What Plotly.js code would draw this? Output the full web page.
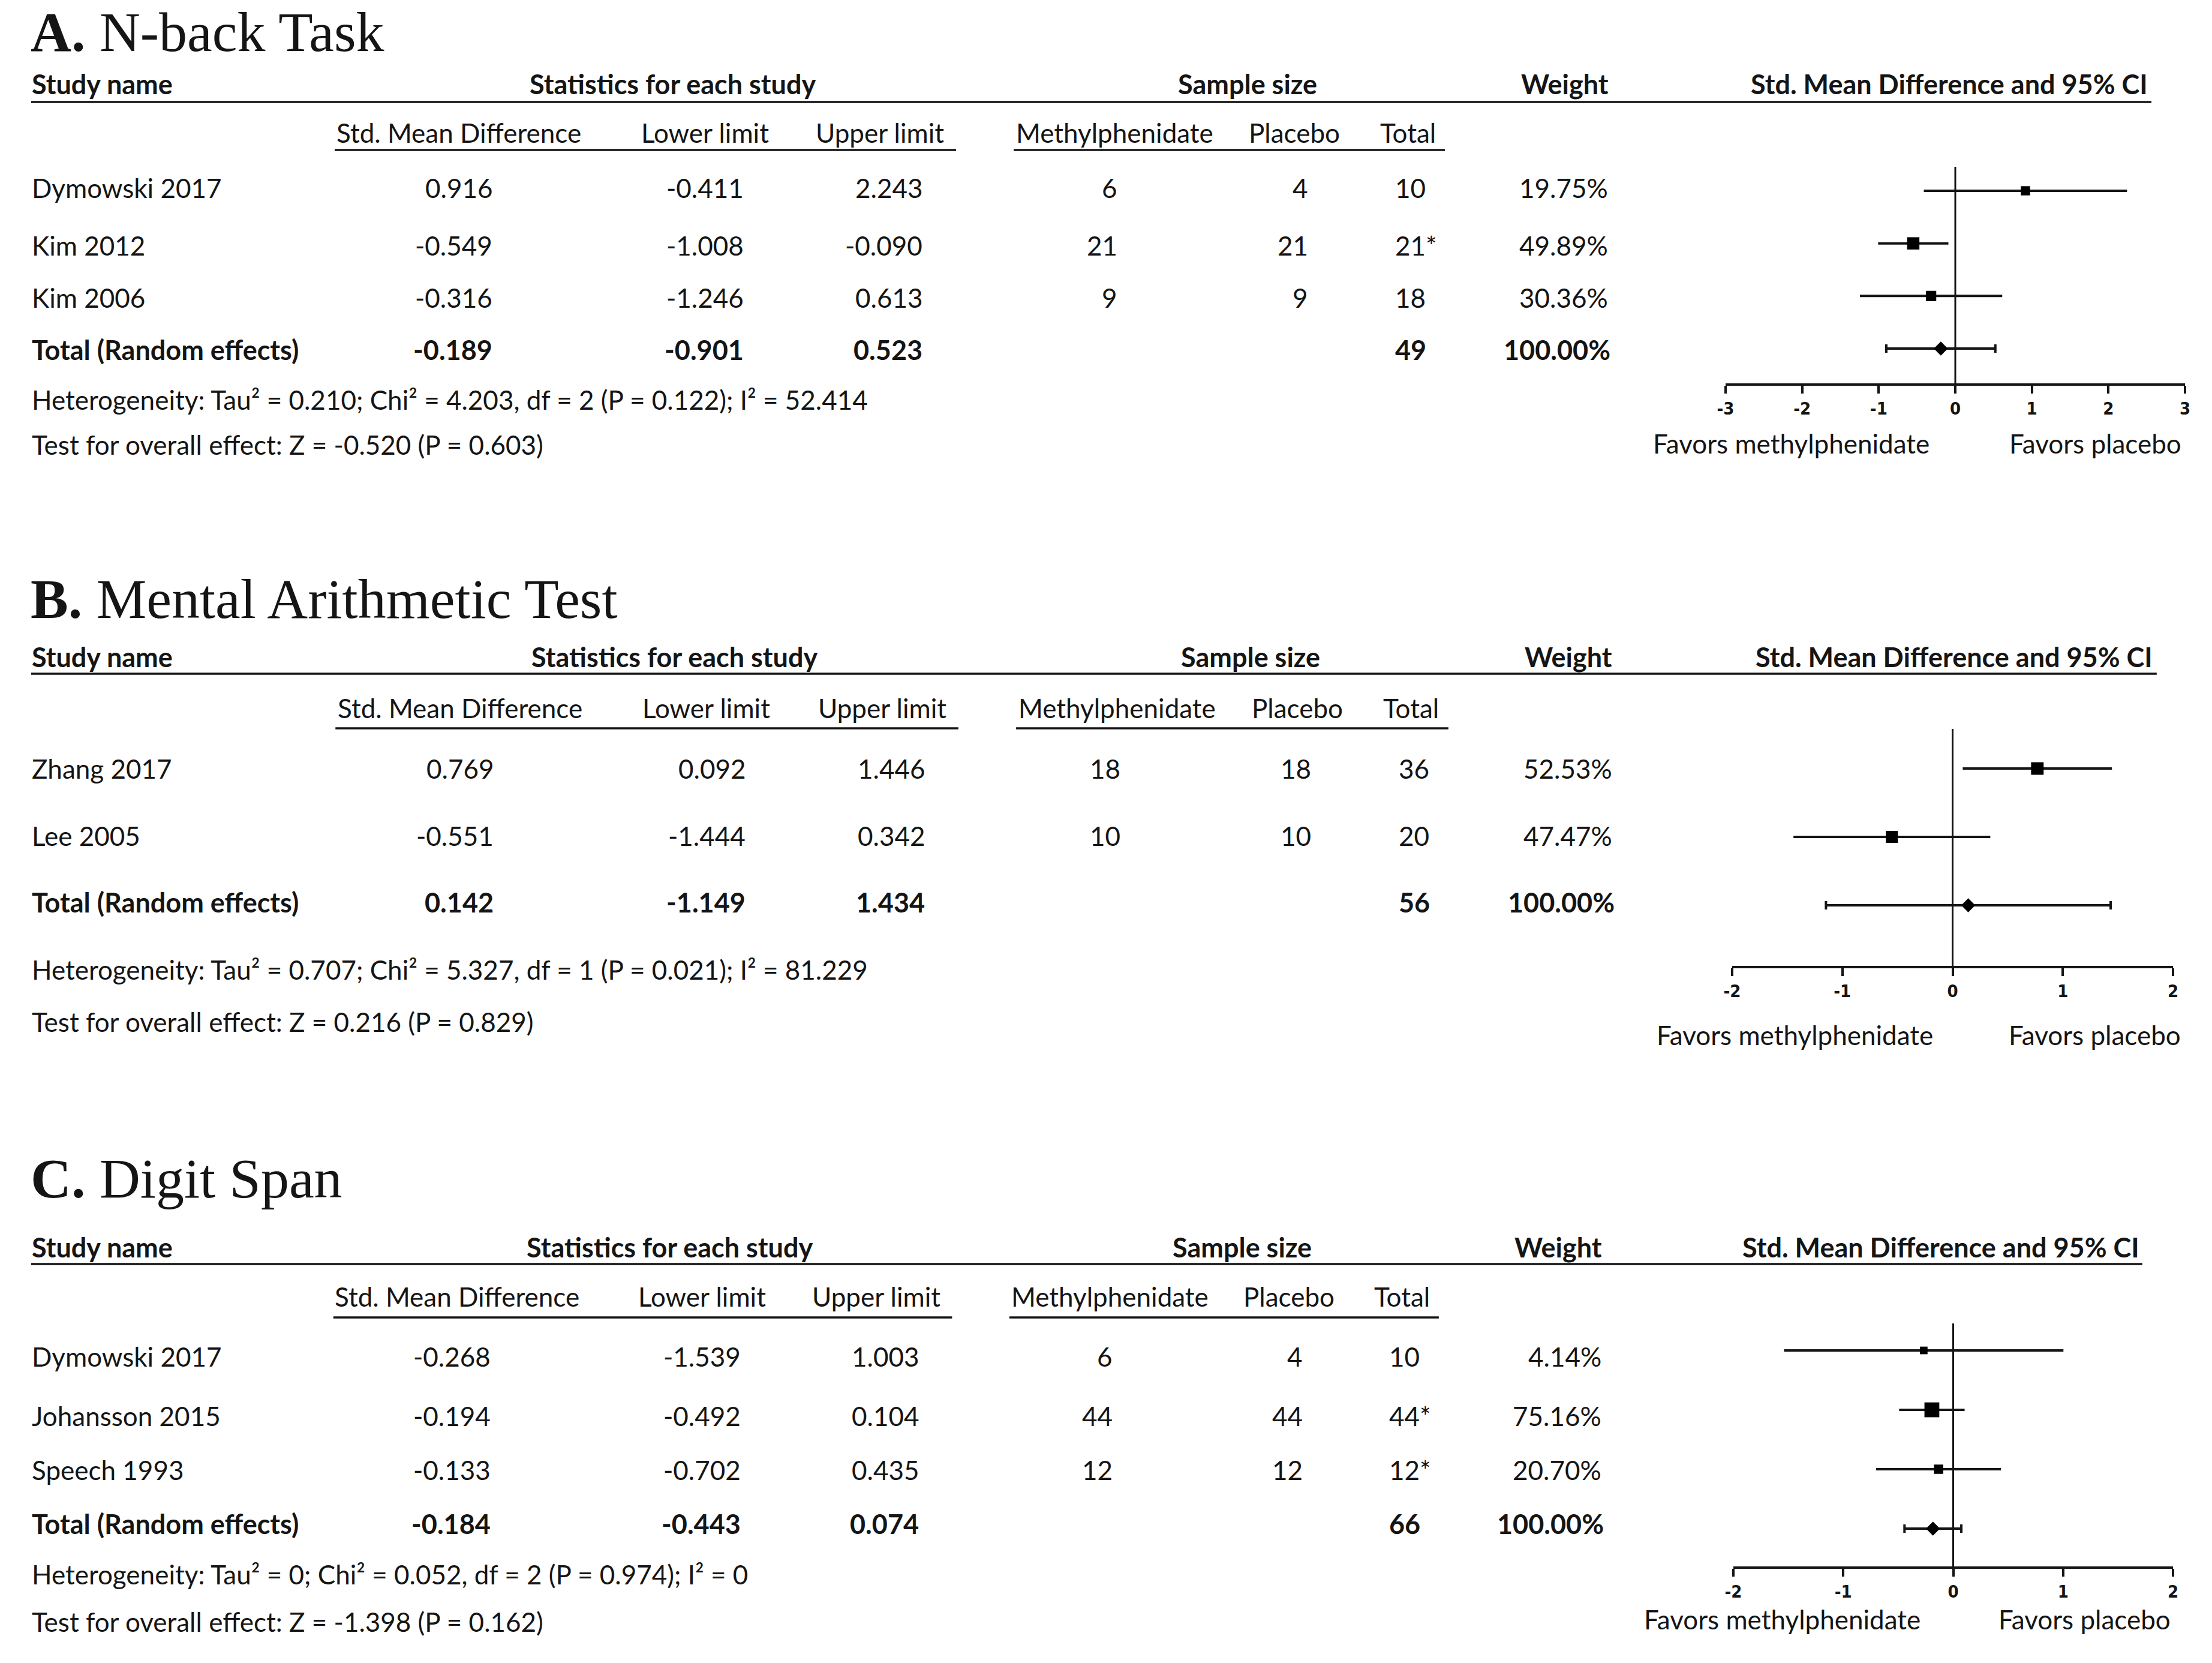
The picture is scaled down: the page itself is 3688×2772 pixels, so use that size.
<!DOCTYPE html>
<html><head><meta charset="utf-8">
<script src="https://cdn.plot.ly/plotly-3.0.1.min.js"></script>
<style>html,body{margin:0;padding:0;background:#fff}#chart{width:3688px;height:2772px}</style>
</head><body><div id="chart"></div>
<script>
// ---------------- DATA ----------------
// A. N-back Task
const titleA = '<b>A.</b> N-back Task';
const studiesA = ['Dymowski 2017', 'Kim 2012', 'Kim 2006'];
const smdA = [0.916, -0.549, -0.316];
const lowerA = [-0.411, -1.008, -1.246];
const upperA = [2.243, -0.090, 0.613];
const methA = [6, 21, 9];
const placeboA = [4, 21, 9];
const totalA = ['10', '21*', '18'];
const weightA = [19.75, 49.89, 30.36];
const pooledA = [-0.189, -0.901, 0.523];
const pooledNA = 49;
const hetA = 'Heterogeneity: Tau² = 0.210; Chi² = 4.203, df = 2 (P = 0.122); I² = 52.414';
const testA = 'Test for overall effect: Z = -0.520 (P = 0.603)';
const tickValsA = [-3, -2, -1, 0, 1, 2, 3];
const tickTextA = ['-3', '-2', '-1', '0', '1', '2', '3'];

// B. Mental Arithmetic Test
const titleB = '<b>B.</b> Mental Arithmetic Test';
const studiesB = ['Zhang 2017', 'Lee 2005'];
const smdB = [0.769, -0.551];
const lowerB = [0.092, -1.444];
const upperB = [1.446, 0.342];
const methB = [18, 10];
const placeboB = [18, 10];
const totalB = ['36', '20'];
const weightB = [52.53, 47.47];
const pooledB = [0.142, -1.149, 1.434];
const pooledNB = 56;
const hetB = 'Heterogeneity: Tau² = 0.707; Chi² = 5.327, df = 1 (P = 0.021); I² = 81.229';
const testB = 'Test for overall effect: Z = 0.216 (P = 0.829)';
const tickValsB = [-2, -1, 0, 1, 2];
const tickTextB = ['-2', '-1', '0', '1', '2'];

// C. Digit Span
const titleC = '<b>C.</b> Digit Span';
const studiesC = ['Dymowski 2017', 'Johansson 2015', 'Speech 1993'];
const smdC = [-0.268, -0.194, -0.133];
const lowerC = [-1.539, -0.492, -0.702];
const upperC = [1.003, 0.104, 0.435];
const methC = [6, 44, 12];
const placeboC = [4, 44, 12];
const totalC = ['10', '44*', '12*'];
const weightC = [4.14, 75.16, 20.70];
const pooledC = [-0.184, -0.443, 0.074];
const pooledNC = 66;
const hetC = 'Heterogeneity: Tau² = 0; Chi² = 0.052, df = 2 (P = 0.974); I² = 0';
const testC = 'Test for overall effect: Z = -1.398 (P = 0.162)';
const tickValsC = [-2, -1, 0, 1, 2];
const tickTextC = ['-2', '-1', '0', '1', '2'];

const totalLabel = 'Total (Random effects)';
const favLeft = 'Favors methylphenidate';
const favRight = 'Favors placebo';

// ---------------- LAYOUT ----------------
const W = 3688, H = 2772;
const FONT = 'Lato, "Open Sans", sans-serif';
const SERIF = '"Liberation Serif", "Times New Roman", serif';
const TICKFONT = '"Liberation Sans Narrow", "DejaVu Sans Condensed", "Liberation Sans", Arial, sans-serif';
const INK = '#151515';
const REG = 44, BOLD = 45;
const px = x => x / W, py = y => 1 - y / H;
const annotations = [], shapes = [], traces = [];
const layout = {width: W, height: H, margin: {l: 0, r: 0, t: 0, b: 0}, paper_bgcolor: '#fff',
  plot_bgcolor: 'rgba(0,0,0,0)', showlegend: false, annotations, shapes};

function txt(x, y, text, o = {}) {
  annotations.push({xref: 'paper', yref: 'paper', x: px(x), y: py(y), text, showarrow: false,
    xanchor: o.xa || 'left', yanchor: o.ya || 'middle', borderpad: 0,
    font: {family: o.family || FONT, size: o.size || (o.bold ? BOLD : REG), color: INK, weight: o.bold ? 700 : 400}});
}
function hline(x0, x1, y, w) {
  shapes.push({type: 'line', xref: 'paper', yref: 'paper', x0: px(x0), x1: px(x1), y0: py(y), y1: py(y),
    line: {color: INK, width: w || 3}});
}

const panels = [
  {title: titleA, studies: studiesA, smd: smdA, lo: lowerA, hi: upperA, meth: methA, plac: placeboA, tot: totalA,
   wt: weightA, pooled: pooledA, N: pooledNA, het: hetA, test: testA, tv: tickValsA, tt: tickTextA,
   sx: 1, yT: 0, yTa: 'top', yH: 140, yL: 170, yS: 221, yU: 250, rows: [313, 409, 496, 583], yHet: 666, yTest: 741,
   fx0: 2877, fx1: 3643, fAxis: 639, fTop: 278, fRows: [318, 407, 494, 581], favY: 739, fav1: 2986, fav2: 3493},
  {title: titleB, studies: studiesB, smd: smdB, lo: lowerB, hi: upperB, meth: methB, plac: placeboB, tot: totalB,
   wt: weightB, pooled: pooledB, N: pooledNB, het: hetB, test: testB, tv: tickValsB, tt: tickTextB,
   sx: 1.0025, yT: 998, yTa: 'middle', yH: 1095, yL: 1123, yS: 1180, yU: 1214, rows: [1281, 1393, 1504], yHet: 1616, yTest: 1703,
   fx0: 2888, fx1: 3623, fAxis: 1610, fTop: 1215, fRows: [1281, 1394, 1509], favY: 1725, fav1: 2992, fav2: 3492},
  {title: titleC, studies: studiesC, smd: smdC, lo: lowerC, hi: upperC, meth: methC, plac: placeboC, tot: totalC,
   wt: weightC, pooled: pooledC, N: pooledNC, het: hetC, test: testC, tv: tickValsC, tt: tickTextC,
   sx: 0.9957, yT: 1964, yTa: 'middle', yH: 2079, yL: 2107, yS: 2161, yU: 2196, rows: [2261, 2360, 2450, 2540], yHet: 2624, yTest: 2703,
   fx0: 2890, fx1: 3623, fAxis: 2611, fTop: 2206, fRows: [2251, 2349, 2448, 2548], favY: 2699, fav1: 2971, fav2: 3475}
];

panels.forEach((p, i) => {
  const X = x => 52 + p.sx * (x - 52);
  txt(X(50), p.yT, p.title, {family: SERIF, size: 94, ya: p.yTa});
  txt(X(52), p.yH, 'Study name', {bold: true});
  txt(X(1122), p.yH, 'Statistics for each study', {bold: true, xa: 'center'});
  txt(X(2080), p.yH, 'Sample size', {bold: true, xa: 'center'});
  txt(X(2609), p.yH, 'Weight', {bold: true, xa: 'center'});
  txt(X(3250), p.yH, 'Std. Mean Difference and 95% CI', {bold: true, xa: 'center'});
  hline(X(52), X(3587), p.yL, 3.5);
  [['Std. Mean Difference', 765], ['Lower limit', 1175], ['Upper limit', 1467],
   ['Methylphenidate', 1858], ['Placebo', 2158], ['Total', 2347]].forEach(([t, x]) => txt(X(x), p.yS, t, {xa: 'center'}));
  hline(X(558), X(1594), p.yU, 3.5);
  hline(X(1690), X(2409), p.yU, 3.5);
  p.studies.forEach((s, k) => {
    const y = p.rows[k];
    txt(X(52), y, s);
    txt(X(822), y, p.smd[k].toFixed(3), {xa: 'right'});
    txt(X(1241), y, p.lo[k].toFixed(3), {xa: 'right'});
    txt(X(1539), y, p.hi[k].toFixed(3), {xa: 'right'});
    txt(X(1864), y, String(p.meth[k]), {xa: 'right'});
    txt(X(2182), y, String(p.plac[k]), {xa: 'right'});
    txt(X(2325), y, p.tot[k]);
    txt(X(2682), y, p.wt[k].toFixed(2) + '%', {xa: 'right'});
  });
  const yt = p.rows[p.studies.length];
  txt(X(52), yt, totalLabel, {bold: true});
  txt(X(822), yt, p.pooled[0].toFixed(3), {xa: 'right', bold: true});
  txt(X(1241), yt, p.pooled[1].toFixed(3), {xa: 'right', bold: true});
  txt(X(1539), yt, p.pooled[2].toFixed(3), {xa: 'right', bold: true});
  txt(X(2325), yt, String(p.N), {bold: true});
  txt(X(2686), yt, (100).toFixed(2) + '%', {xa: 'right', bold: true});
  txt(X(52), p.yHet, p.het);
  txt(X(52), p.yTest, p.test);

  // forest plot
  const n = i + 1, sfx = n === 1 ? '' : String(n);
  const cats = p.studies.concat(['Total']);
  const sp = (p.fRows[cats.length - 1] - p.fRows[0]) / (cats.length - 1);
  const yBottom = (p.fAxis - p.fRows[0]) / sp, yTop = (p.fTop - p.fRows[0]) / sp;
  layout['xaxis' + sfx] = {domain: [px(p.fx0), px(p.fx1)], range: [p.tv[0], p.tv[p.tv.length - 1]],
    anchor: 'y' + sfx, showline: true, linewidth: 4, linecolor: INK, ticks: 'outside', ticklen: 13,
    tickwidth: 4, tickcolor: INK, tickmode: 'array', tickvals: p.tv, ticktext: p.tt, showgrid: false,
    zeroline: false, fixedrange: true,
    tickfont: {family: TICKFONT, size: 29, color: INK, weight: 700}};
  layout['yaxis' + sfx] = {domain: [py(p.fAxis), py(p.fTop)], type: 'category', categoryorder: 'array',
    categoryarray: cats, range: [yBottom, yTop], visible: false, fixedrange: true, anchor: 'x' + sfx};
  shapes.push({type: 'line', xref: 'x' + sfx, yref: 'y' + sfx + ' domain', x0: 0, x1: 0, y0: 0, y1: 1,
    line: {color: INK, width: 3}});
  traces.push({type: 'scatter', mode: 'markers', x: p.smd, y: p.studies, xaxis: 'x' + sfx, yaxis: 'y' + sfx,
    cliponaxis: false,
    marker: {symbol: 'square', color: '#000', opacity: 1, size: p.wt.map(w => 12 + 0.17 * w), line: {width: 0}},
    error_x: {type: 'data', symmetric: false, array: p.hi.map((h, k) => h - p.smd[k]),
      arrayminus: p.lo.map((l, k) => p.smd[k] - l), width: 0, thickness: 4, color: INK}});
  traces.push({type: 'scatter', mode: 'markers', x: [p.pooled[0]], y: ['Total'], xaxis: 'x' + sfx, yaxis: 'y' + sfx,
    cliponaxis: false,
    marker: {symbol: 'diamond', color: '#000', opacity: 1, size: 18, line: {width: 0}},
    error_x: {type: 'data', symmetric: false, array: [p.pooled[2] - p.pooled[0]],
      arrayminus: [p.pooled[0] - p.pooled[1]], width: 7, thickness: 4, color: INK}});
  txt(p.fav1, p.favY, favLeft, {xa: 'center'});
  txt(p.fav2, p.favY, favRight, {xa: 'center'});
});

Plotly.newPlot('chart', traces, layout, {staticPlot: true, displayModeBar: false});
</script></body></html>
